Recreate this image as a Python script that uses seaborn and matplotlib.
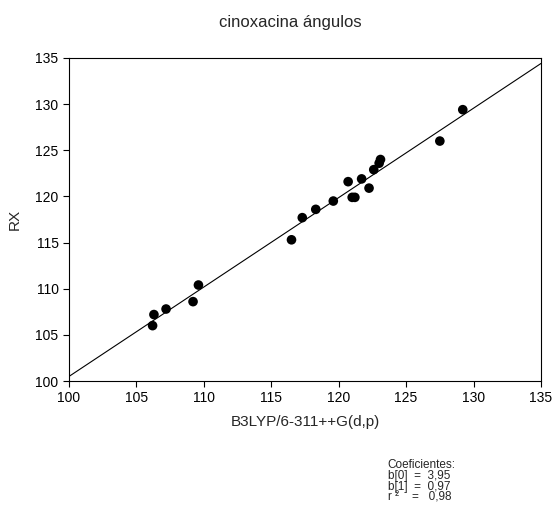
import matplotlib
matplotlib.use("Agg")
import matplotlib.pyplot as plt
import seaborn as sns
import pandas as pd

# ----------------------------- #
#  Data
# ----------------------------- #
b3lyp = [106.2, 106.3, 107.2, 109.2, 109.6, 116.5, 117.3, 118.3, 119.6, 120.7,
         121.0, 121.2, 121.7, 122.25, 122.6, 123.0, 123.1, 127.5, 129.2]
rx = [106.0, 107.2, 107.8, 108.6, 110.4, 115.3, 117.7, 118.6, 119.5, 121.6,
      119.9, 119.9, 121.9, 120.9, 122.9, 123.6, 124.0, 126.0, 129.4]
ticks = [100, 105, 110, 115, 120, 125, 130, 135]
coef_text = "Coeficientes:\nb[0]  =  3,95\nb[1]  =  0,97\nr \u00b2    =   0,98"

df = pd.DataFrame({"B3LYP": b3lyp, "RX": rx})

# ----------------------------- #
#  Plot
# ----------------------------- #
sns.set_style("ticks")
plt.rcParams["font.family"] = ["Liberation Sans", "DejaVu Sans"]

fig = plt.figure(figsize=(5.54, 5.11), dpi=100)
ax = fig.add_axes([0.1245, 0.2544, 0.852, 0.6321])
ax.set_xlim(100, 135)
ax.set_ylim(100, 135)

sns.regplot(data=df, x="B3LYP", y="RX", ax=ax, ci=None, truncate=False,
            scatter_kws={"s": 48, "color": "black", "edgecolor": "none", "alpha": 1},
            line_kws={"color": "black", "linewidth": 0.8})

ax.set_xlim(100, 135)
ax.set_ylim(100, 135)
ax.set_xticks(ticks)
ax.set_yticks(ticks)
ax.tick_params(direction="out", length=4, width=0.8, labelsize=10, colors="black")
for s in ax.spines.values():
    s.set_linewidth(0.8)
    s.set_color("black")

fig.text(0.5235, 1 - 27 / 511, "cinoxacina ángulos", fontsize=12,
         ha="center", va="baseline")
ax.set_xlabel("B3LYP/6-311++G(d,p)", fontsize=11, labelpad=7)
ax.set_ylabel("RX", fontsize=11, labelpad=10)

fig.text(0.700, 1 - 459 / 511, coef_text, fontsize=8.5, linespacing=0.88,
         va="top", ha="left")

fig.savefig("out.png", dpi=100)
